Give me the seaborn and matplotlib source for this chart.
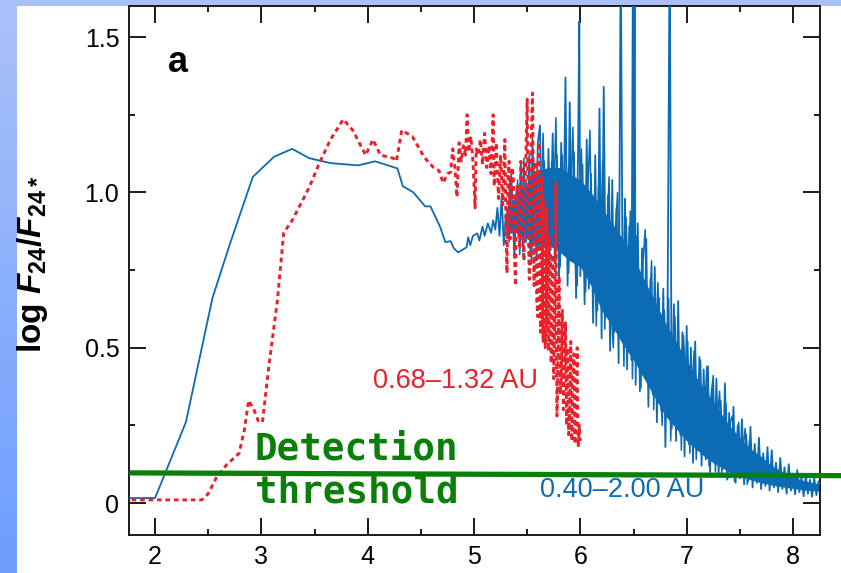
import numpy as np
import matplotlib
matplotlib.use('Agg')
import matplotlib.pyplot as plt
import seaborn as sns
from matplotlib.patches import Rectangle
from matplotlib.ticker import MultipleLocator
from matplotlib.colors import LinearSegmentedColormap

# ---------------- data ----------------
blue_smooth_x = [1.70, 2.0, 2.29, 2.54, 2.71, 2.92, 3.12, 3.29, 3.45, 3.64, 3.69, 3.91, 4.07,
                 4.28, 4.33, 4.43, 4.54, 4.59, 4.68, 4.73, 4.78, 4.81, 4.85, 4.89,
                 4.93, 4.945, 4.965, 4.99, 5.03, 5.05, 5.08, 5.10, 5.13, 5.16, 5.18, 5.20, 5.22, 5.24]
blue_smooth_y = [0.016, 0.016, 0.26, 0.66, 0.84, 1.05, 1.115, 1.14, 1.11, 1.095, 1.093, 1.087, 1.10,
                 1.077, 1.02, 1.0, 0.955, 0.955, 0.89, 0.84, 0.843, 0.82, 0.807, 0.815,
                 0.823, 0.855, 0.83, 0.86, 0.868, 0.845, 0.89, 0.86, 0.90, 0.87, 0.91, 0.88, 0.95, 0.86]

blue_noise_x = [5.26, 5.28, 5.30, 5.32, 5.34, 5.36, 5.38, 5.40, 5.42, 5.44, 5.46, 5.48, 5.50, 5.52,
                5.54, 5.56, 5.58, 5.60, 5.62, 5.64, 5.66, 5.68, 5.70, 5.72, 5.74, 5.76, 5.78, 5.80,
                5.82, 5.84, 5.86, 5.88, 5.90, 5.92, 5.94, 5.96, 5.98, 5.99, 6.00, 6.02, 6.04, 6.06,
                6.08, 6.10, 6.12, 6.14, 6.16, 6.18, 6.20, 6.22, 6.24, 6.26, 6.28, 6.30, 6.32, 6.34,
                6.36, 6.38, 6.40, 6.42, 6.44, 6.46, 6.48, 6.495, 6.50, 6.51, 6.52, 6.54, 6.56, 6.58,
                6.60, 6.62, 6.64, 6.66, 6.68, 6.70, 6.72, 6.74, 6.76, 6.78, 6.80, 6.82, 6.84, 6.86,
                6.88, 6.90, 6.92, 6.94, 6.96, 6.98, 7.00, 7.02, 7.04, 7.06, 7.08, 7.10, 7.12, 7.14,
                7.16, 7.18, 7.20, 7.22, 7.24, 7.26, 7.28, 7.30, 7.32, 7.34, 7.36, 7.38, 7.40, 7.42,
                7.44, 7.46, 7.48, 7.50, 7.52, 7.54, 7.56, 7.58, 7.60, 7.62, 7.64, 7.66, 7.68, 7.70,
                7.72, 7.74, 7.76, 7.78, 7.80, 7.82, 7.84, 7.86, 7.88, 7.90, 7.92, 7.94, 7.96, 7.98,
                8.00, 8.02, 8.04, 8.06, 8.08, 8.10, 8.12, 8.14, 8.16, 8.18, 8.20, 8.22, 8.24, 8.30]
blue_noise_y = [0.99, 0.83, 0.93, 0.88, 1.05, 0.97, 0.79, 1.01, 0.86, 1.09, 0.81, 1.03, 0.90, 1.12,
                0.77, 1.07, 0.85, 1.16, 1.215, 0.80, 1.10, 0.74, 1.14, 0.86, 1.19, 0.78, 1.12, 0.72,
                1.16, 0.82, 1.37, 0.70, 1.29, 0.80, 1.13, 0.66, 1.18, 1.55, 0.73, 1.09, 0.64, 1.17,
                0.69, 1.06, 0.58, 1.12, 0.62, 1.27, 0.53, 1.34, 0.60, 0.99, 0.49, 1.04, 0.55, 0.95,
                0.45, 1.80, 0.52, 0.98, 0.43, 0.89, 0.46, 1.80, 0.55, 1.80, 0.38, 0.90, 0.36, 0.82,
                0.41, 0.85, 0.31, 0.72, 0.35, 0.76, 0.26, 0.66, 0.30, 0.69, 0.18, 0.60, 1.80, 0.24,
                0.64, 0.20, 0.65, 0.22, 0.55, 0.15, 0.57, 0.19, 0.50, 0.13, 0.52, 0.17, 0.47, 0.12,
                0.43, 0.14, 0.44, 0.10, 0.37, 0.13, 0.40, 0.085, 0.33, 0.11, 0.385, 0.075, 0.29, 0.095,
                0.31, 0.065, 0.25, 0.08, 0.27, 0.06, 0.22, 0.07, 0.245, 0.05, 0.19, 0.065, 0.21, 0.045,
                0.16, 0.055, 0.18, 0.04, 0.17, 0.05, 0.13, 0.035, 0.145, 0.045, 0.115, 0.03, 0.125, 0.04,
                0.095, 0.028, 0.106, 0.035, 0.085, 0.022, 0.09, 0.03, 0.075, 0.02, 0.08, 0.025, 0.07, 0.03]

blue_noise2_x = [5.31, 5.33, 5.35, 5.37, 5.39, 5.41, 5.43, 5.45, 5.47, 5.49, 5.51, 5.53, 5.55, 5.57,
                 5.59, 5.61, 5.63, 5.65, 5.67, 5.69, 5.71, 5.73, 5.75, 5.77, 5.79, 5.81, 5.83, 5.85,
                 5.87, 5.89, 5.91, 5.93, 5.95, 5.97, 5.99, 6.01, 6.03, 6.05, 6.07, 6.09, 6.11, 6.13,
                 6.15, 6.17, 6.19, 6.21, 6.23, 6.25, 6.27, 6.29, 6.31, 6.33, 6.35, 6.37, 6.39, 6.41,
                 6.43, 6.45, 6.47, 6.49, 6.51, 6.53, 6.55, 6.57, 6.59, 6.61, 6.63, 6.65, 6.67, 6.69,
                 6.71, 6.73, 6.75, 6.77, 6.79, 6.81, 6.83, 6.85, 6.87, 6.89, 6.91, 6.93, 6.95, 6.97,
                 6.99, 7.01, 7.03, 7.05, 7.07, 7.09, 7.11, 7.13, 7.15, 7.17, 7.19, 7.21, 7.23, 7.25,
                 7.27, 7.29, 7.31, 7.33, 7.35, 7.37, 7.39, 7.41, 7.43, 7.45, 7.47, 7.49, 7.51, 7.53,
                 7.55, 7.57, 7.59]
blue_noise2_y = [0.92, 0.84, 1.07, 0.90, 0.96, 1.04, 0.80, 0.95, 1.11, 0.84, 0.99, 0.80, 1.18, 0.92,
                 0.78, 1.05, 0.95, 1.19, 0.82, 1.02, 0.75, 1.10, 0.95, 1.24, 0.84, 0.76, 1.12, 0.92,
                 1.08, 0.74, 1.00, 1.21, 0.78, 0.70, 1.02, 1.14, 0.80, 0.68, 1.00, 1.20, 0.72, 0.90,
                 0.57, 1.02, 0.80, 1.10, 0.56, 0.86, 1.05, 0.62, 0.50, 0.88, 1.00, 0.58, 0.80, 0.44,
                 0.92, 0.70, 0.94, 0.40, 0.70, 0.86, 0.50, 0.37, 0.78, 0.88, 0.44, 0.62, 0.78, 0.30,
                 0.55, 0.71, 0.40, 0.25, 0.62, 0.40, 0.66, 0.20, 0.48, 0.60, 0.26, 0.50, 0.17, 0.54,
                 0.40, 0.52, 0.16, 0.36, 0.49, 0.14, 0.38, 0.46, 0.18, 0.30, 0.44, 0.12, 0.35, 0.41,
                 0.10, 0.28, 0.36, 0.09, 0.22, 0.32, 0.08, 0.26, 0.28, 0.07, 0.20, 0.26, 0.08, 0.18,
                 0.24, 0.06, 0.20]

blue_core_x = [5.30, 5.40, 5.50, 5.60, 5.70, 5.80, 5.90, 6.00, 6.10, 6.20, 6.30, 6.40, 6.50, 6.60,
               6.70, 6.80, 6.90, 7.00, 7.10, 7.20, 7.30, 7.40, 7.50, 7.60, 7.70, 7.80, 7.90, 8.00,
               8.10, 8.30]
blue_core_lo = [0.87, 0.87, 0.85, 0.83, 0.83, 0.81, 0.78, 0.76, 0.70, 0.62, 0.57, 0.51, 0.46, 0.40,
                0.34, 0.28, 0.24, 0.20, 0.17, 0.14, 0.12, 0.10, 0.085, 0.075, 0.065, 0.058, 0.052, 0.047,
                0.042, 0.037]
blue_core_hi = [0.95, 0.99, 1.03, 1.07, 1.08, 1.08, 1.06, 1.04, 1.00, 0.95, 0.90, 0.85, 0.79, 0.72,
                0.65, 0.58, 0.52, 0.46, 0.40, 0.35, 0.30, 0.25, 0.21, 0.175, 0.15, 0.12, 0.10, 0.085,
                0.072, 0.058]

red_x = [1.70, 2.0, 2.44, 2.50, 2.58, 2.67, 2.79, 2.84, 2.88, 2.93, 2.97, 3.01, 3.07, 3.15, 3.21,
         3.29, 3.45, 3.54, 3.65, 3.77, 3.86, 3.98, 4.05, 4.12, 4.24, 4.27, 4.32, 4.42, 4.52, 4.57,
         4.62, 4.67, 4.71, 4.75, 4.78, 4.80, 4.82, 4.84, 4.86, 4.88, 4.90, 4.92, 4.935, 4.95, 4.97,
         4.99, 5.01, 5.02, 5.04, 5.06, 5.08, 5.10, 5.12, 5.14, 5.16, 5.18, 5.19, 5.21, 5.23, 5.25,
         5.27, 5.29, 5.30, 5.31, 5.32, 5.33, 5.34, 5.35, 5.36, 5.37, 5.38, 5.39, 5.40, 5.41, 5.42,
         5.43, 5.44, 5.45, 5.46, 5.47, 5.48, 5.49, 5.50, 5.51, 5.52, 5.53, 5.54, 5.55, 5.56, 5.565,
         5.57, 5.58, 5.59, 5.60, 5.605, 5.61, 5.62, 5.625, 5.63, 5.64, 5.645, 5.65, 5.66, 5.665,
         5.67, 5.68, 5.685, 5.69, 5.70, 5.705, 5.71, 5.72, 5.725, 5.73, 5.74, 5.745, 5.75, 5.76,
         5.77, 5.775, 5.78, 5.79, 5.80, 5.805, 5.81, 5.82, 5.83, 5.835, 5.84, 5.85, 5.86, 5.865,
         5.87, 5.88, 5.885, 5.89, 5.90, 5.91, 5.915, 5.92, 5.93, 5.94, 5.945, 5.95, 5.96, 5.97,
         5.975, 5.98, 5.99, 6.00]
red_y = [0.01, 0.01, 0.01, 0.03, 0.084, 0.122, 0.16, 0.235, 0.33, 0.30, 0.265, 0.26, 0.44, 0.65, 0.87,
         0.91, 1.016, 1.09, 1.17, 1.235, 1.20, 1.12, 1.17, 1.12, 1.11, 1.10, 1.20, 1.18, 1.12, 1.097,
         1.08, 1.07, 1.03, 1.06, 1.065, 1.14, 1.08, 0.985, 1.16, 1.10, 1.15, 1.12, 1.25, 1.13, 1.18,
         1.10, 0.95, 1.14, 1.12, 1.17, 1.09, 1.19, 1.08, 1.15, 1.06, 1.25, 1.02, 1.16, 0.98, 1.12,
         0.96, 1.17, 0.90, 0.74, 1.05, 1.10, 0.85, 0.92, 1.08, 1.05, 0.80, 0.70, 0.98, 1.02, 0.88,
         0.82, 1.10, 1.08, 0.85, 0.78, 1.00, 1.15, 1.30, 0.90, 0.72, 1.05, 1.20, 1.32, 0.95, 0.70,
         1.00, 1.10, 0.65, 0.60, 1.05, 1.16, 0.75, 0.55, 0.95, 1.05, 0.62, 0.52, 0.98, 0.90,
         0.50, 0.58, 0.95, 0.88, 0.49, 0.55, 0.85, 0.80, 0.45, 0.50, 0.80, 0.70, 0.40, 0.62,
         1.03, 0.60, 0.28, 0.45, 0.73, 0.55, 0.35, 0.40, 0.62, 0.50, 0.30, 0.45, 0.58, 0.42,
         0.25, 0.50, 0.40, 0.22, 0.30, 0.52, 0.35, 0.20, 0.40, 0.48, 0.30, 0.19, 0.35, 0.50,
         0.30, 0.18, 0.25, 0.20]

threshold_x = [1.755, 8.46]
threshold_y = [0.097, 0.088]

x_ticks = [2, 3, 4, 5, 6, 7, 8]
y_ticks = [0, 0.5, 1.0, 1.5]
y_tick_labels = ['0', '0.5', '1.0', '1.5']

BLUE = '#0b6bb5'
RED = '#e8212b'
GREEN = '#0a800a'

# ---------------- style ----------------
sns.set_theme(style='ticks')
plt.rcParams['font.family'] = ['Liberation Sans', 'DejaVu Sans']
plt.rcParams['mathtext.fontset'] = 'custom'
plt.rcParams['mathtext.rm'] = 'Liberation Sans:bold'
plt.rcParams['mathtext.it'] = 'Liberation Sans:italic:bold'
plt.rcParams['mathtext.bf'] = 'Liberation Sans:bold'

fig = plt.figure(figsize=(8.41, 5.73), dpi=100)

# slide-like background: blue gradient with white panel
bg = fig.add_axes([0, 0, 1, 1], zorder=-10)
grad = np.linspace(0, 1, 256).reshape(-1, 1)
cmap = LinearSegmentedColormap.from_list('bgblue', ['#aac2f8', '#6c9eff'])
bg.imshow(grad, aspect='auto', cmap=cmap, extent=[0, 1, 0, 1], origin='upper')
bg.add_patch(Rectangle((17 / 841, 0), 1 - 17 / 841, 1 - 6 / 573, transform=bg.transAxes,
                       facecolor='white', edgecolor='none'))
bg.set_xlim(0, 1)
bg.set_ylim(0, 1)
bg.axis('off')

ax = fig.add_axes([129 / 841, 1 - 535 / 573, (820 - 129) / 841, (535 - 6) / 573])
ax.set_facecolor('white')

# blue series
ax.fill_between(blue_core_x, blue_core_lo, blue_core_hi, color=BLUE, lw=0, zorder=2)
sns.lineplot(x=blue_noise2_x, y=blue_noise2_y, ax=ax, color=BLUE, lw=1.1, sort=False,
             estimator=None, zorder=2.5)
sns.lineplot(x=blue_smooth_x + blue_noise_x, y=blue_smooth_y + blue_noise_y, ax=ax,
             color=BLUE, lw=1.3, sort=False, estimator=None, zorder=3)

# red series (dotted)
sns.lineplot(x=red_x, y=red_y, ax=ax, color=RED, lw=2.1, sort=False, estimator=None,
             linestyle=(0, (1.6, 1.3)), zorder=4)

# detection threshold
ax.plot(threshold_x, threshold_y, color=GREEN, lw=3.8, clip_on=False, zorder=6,
        solid_capstyle='butt')

ax.set_xlim(1.755, 8.254)
ax.set_ylim(-0.103, 1.6)
ax.set_xticks(x_ticks)
ax.set_xticklabels([str(t) for t in x_ticks])
ax.set_yticks(y_ticks)
ax.set_yticklabels(y_tick_labels)
ax.xaxis.set_minor_locator(MultipleLocator(0.5))
ax.yaxis.set_minor_locator(MultipleLocator(0.25))
ax.tick_params(which='both', direction='in', top=True, right=True, color='#1a1a1a',
               width=1.4, labelsize=18, labelcolor='black', pad=7)
ax.tick_params(which='major', length=12)
ax.tick_params(which='minor', length=4)
for s in ax.spines.values():
    s.set_color('#1a1a1a')
    s.set_linewidth(1.4)

ax.set_xlabel('')
ax.set_ylabel(r'log $\mathit{F}_{\mathrm{24}}$/$\mathit{F}_{\mathrm{24*}}$', fontsize=24,
              fontweight='bold', color='black')
ax.yaxis.set_label_coords(-0.114, 0.512)

ax.text(0.0564, 0.875, 'a', transform=ax.transAxes, fontsize=26, fontweight='bold',
        color='black', va='baseline', ha='left')
ax.text(0.3531, 0.2779, '0.68–1.32 AU', transform=ax.transAxes, fontsize=19.5, color=RED,
        va='baseline', ha='left', zorder=7)
ax.text(0.5948, 0.0718, '0.40–2.00 AU', transform=ax.transAxes, fontsize=19.5, color=BLUE,
        va='baseline', ha='left', zorder=7)
ax.text(0.1823, 0.1418, 'Detection', transform=ax.transAxes, fontsize=27, fontweight='bold',
        family=['DejaVu Sans Mono'], color=GREEN, va='baseline', ha='left', zorder=7)
ax.text(0.1823, 0.0605, 'threshold', transform=ax.transAxes, fontsize=27, fontweight='bold',
        family=['DejaVu Sans Mono'], color=GREEN, va='baseline', ha='left', zorder=7)

fig.savefig('out.png', dpi=100)
